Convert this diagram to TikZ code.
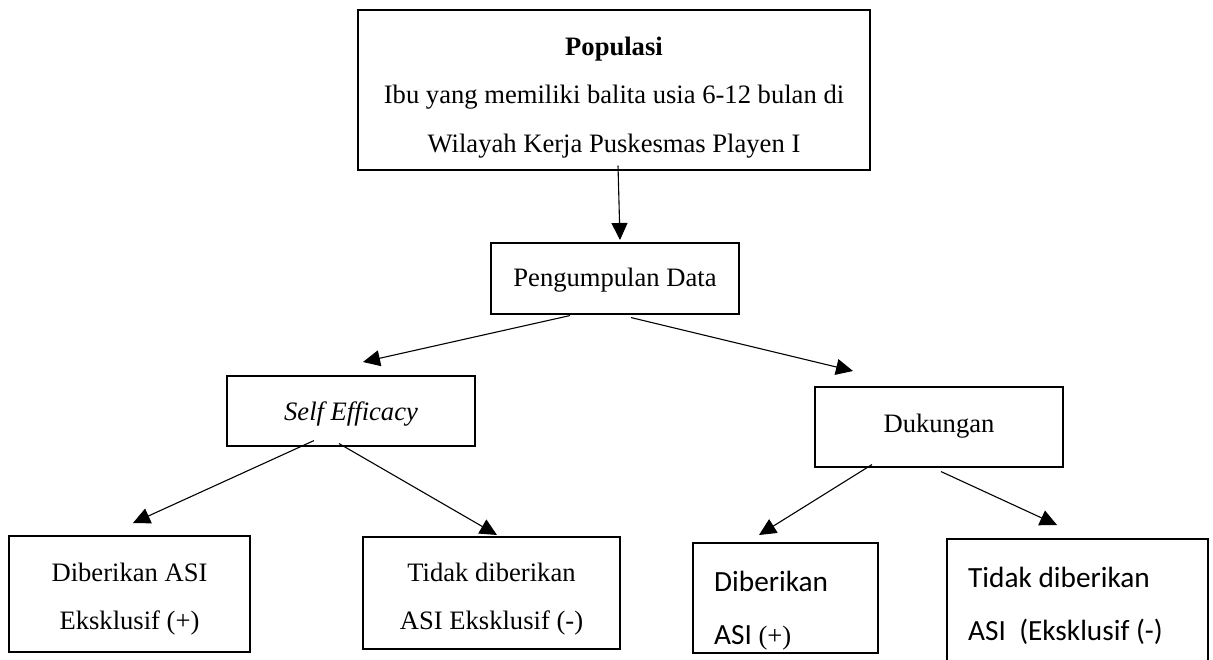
\documentclass[tikz,border=0pt]{standalone}
\usepackage{fontspec}
\setmainfont{Liberation Serif}
\newfontfamily\calibri{Carlito}
\usetikzlibrary{arrows.meta}
\begin{document}
\begin{tikzpicture}[x=1pt,y=-1pt,
  frame/.style={draw, line width=1.1pt, inner sep=0pt},
  lbl/.style={inner sep=0pt, align=center,
    font=\fontsize{26.6}{48.5}\selectfont},
  ctext/.style={inner sep=0pt, anchor=west, align=left,
    font=\calibri\fontsize{29.3}{53}\selectfont},
  conn/.style={line width=1.1pt, -{Triangle[length=17pt,width=16pt]}},
]
\useasboundingbox (0,0) rectangle (1213,659);
\clip (0,0) rectangle (1213,659);

\node[frame, minimum width=512pt, minimum height=160pt] (pop) at (614,90) {};
\node[lbl] (popt) at (614,97.5)
  {\textbf{Populasi}\\Ibu yang memiliki balita usia 6-12 bulan di\\Wilayah Kerja Puskesmas Playen I};
\node[frame, minimum width=248pt, minimum height=71pt] (pd) at (615,278.5) {};
\node[lbl] (pdt) at (615,280) {Pengumpulan Data};
\node[frame, minimum width=248pt, minimum height=70pt] (se) at (351,411) {};
\node[lbl] (set) at (351,414) {\textit{Self Efficacy}};
\node[frame, minimum width=248pt, minimum height=80pt] (du) at (939,427) {};
\node[lbl] (dut) at (939,426) {Dukungan};
\node[frame, minimum width=241pt, minimum height=116pt] (b1) at (129.5,594) {};
\node[lbl] (b1t) at (129.5,599) {Diberikan ASI\\Eksklusif (+)};
\node[frame, minimum width=257pt, minimum height=112pt] (b2) at (491.5,593) {};
\node[lbl] (b2t) at (491.5,599) {Tidak diberikan\\ASI Eksklusif (-)};
\node[frame, minimum width=185pt, minimum height=110pt] (b3) at (785.5,598) {};
\node[ctext] (b3t) at (714,611) {Diberikan\\ASI {\rmfamily\fontsize{26.6}{48}\selectfont(+)}};
\node[frame, minimum width=261pt, minimum height=150pt] (b4) at (1077.5,614) {};
\node[ctext] (b4t) at (968,605.5) {Tidak diberikan\\ASI\ \ (Eksklusif (-)};

\coordinate (t0) at (620,240);
\coordinate (t1) at (363,362);
\coordinate (t2) at (853,371);
\coordinate (t3) at (133,523);
\coordinate (t4) at (497,535);
\coordinate (t5) at (759,535);
\coordinate (t6) at (1057,525);

\draw[conn] ([xshift=4pt,yshift=5pt]pop.south) -- (t0);
\draw[conn] ([xshift=-45pt,yshift=-1pt]pd.south) -- (t1);
\draw[conn] ([xshift=16pt,yshift=-3pt]pd.south) -- (t2);
\draw[conn] ([xshift=-37pt,yshift=6pt]se.south) -- (t3);
\draw[conn] ([xshift=-12pt,yshift=3pt]se.south) -- (t4);
\draw[conn] ([xshift=-67pt,yshift=3pt]du.south) -- (t5);
\draw[conn] ([xshift=2pt,yshift=-4pt]du.south) -- (t6);
\end{tikzpicture}
\end{document}
